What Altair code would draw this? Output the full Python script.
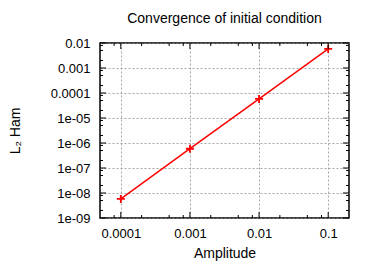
import altair as alt
import pandas as pd

# data
amplitude = [0.0001, 0.001, 0.01, 0.1]
l2_ham = [5.8e-9, 5.9e-7, 5.8e-5, 5.8e-3]

x_ticks = [0.0001, 0.001, 0.01, 0.1]
x_labels = ["0.0001", "0.001", "0.01", "0.1"]
y_ticks = [1e-9, 1e-8, 1e-7, 1e-6, 1e-5, 1e-4, 1e-3, 1e-2]
y_labels = ["1e-09", "1e-08", "1e-07", "1e-06", "1e-05", "0.0001", "0.001", "0.01"]
minor_mult = [2, 5, 8]

x_domain = [5e-5, 0.2]
y_domain = [1e-9, 1e-2]

W, H = 249, 175
FONT = "Liberation Sans"
RED = "#ff0000"

x_minor = [m * 10.0 ** e for e in range(-5, 0) for m in minor_mult]
x_minor = [v for v in x_minor if x_domain[0] < v < x_domain[1] * 0.999]
y_minor = [m * 10.0 ** e for e in range(-9, -2) for m in minor_mult]

df = pd.DataFrame({"a": amplitude, "l2": l2_ham})

x_expr = "[" + ",".join(f"'{s}'" for s in x_labels) + "][round(log(datum.value)/LN10)+4]"
y_expr = "[" + ",".join(f"'{s}'" for s in y_labels) + "][round(log(datum.value)/LN10)+9]"

xs = alt.Scale(type="log", domain=x_domain, nice=False)
ys = alt.Scale(type="log", domain=y_domain, nice=False)

xaxis = alt.Axis(values=x_ticks, labelExpr=x_expr, title="Amplitude", grid=True,
                 gridDash=[2, 2], gridColor="#909090", gridWidth=0.8,
                 tickSize=0, domain=False, labelPadding=9, labelFontSize=13,
                 titleFontSize=14, titleFontWeight="normal", titlePadding=6,
                 labelFont=FONT, titleFont=FONT, labelColor="black", titleColor="black")
yaxis = alt.Axis(values=y_ticks, labelExpr=y_expr, title="L₂ Ham", grid=True,
                 gridDash=[2, 2], gridColor="#909090", gridWidth=0.8,
                 tickSize=0, domain=False, labelPadding=10, labelFontSize=13,
                 titleFontSize=14, titleFontWeight="normal", titlePadding=28,
                 labelFont=FONT, titleFont=FONT, labelColor="black", titleColor="black")

base = alt.Chart(df)
line = base.mark_line(color=RED, strokeWidth=1.5).encode(
    x=alt.X("a:Q", scale=xs, axis=xaxis),
    y=alt.Y("l2:Q", scale=ys, axis=yaxis),
)
pts = base.mark_point(shape="M-1,0L1,0M0,-1L0,1", size=64, color=RED,
                      strokeWidth=1.8, opacity=1).encode(
    x=alt.X("a:Q", scale=xs, axis=xaxis), y=alt.Y("l2:Q", scale=ys, axis=yaxis))

layers = [line, pts]

def yrules(vals, length):
    d = pd.DataFrame({"v": vals})
    c = alt.Chart(d)
    return [
        c.mark_rule(color="black", strokeWidth=1).encode(
            y=alt.Y("v:Q", scale=ys, axis=yaxis), x=alt.value(0), x2=alt.value(length)),
        c.mark_rule(color="black", strokeWidth=1).encode(
            y=alt.Y("v:Q", scale=ys, axis=yaxis), x=alt.value(W), x2=alt.value(W - length)),
    ]

def xrules(vals, length):
    d = pd.DataFrame({"v": vals})
    c = alt.Chart(d)
    return [
        c.mark_rule(color="black", strokeWidth=1).encode(
            x=alt.X("v:Q", scale=xs, axis=xaxis), y=alt.value(H), y2=alt.value(H - length)),
        c.mark_rule(color="black", strokeWidth=1).encode(
            x=alt.X("v:Q", scale=xs, axis=xaxis), y=alt.value(0), y2=alt.value(length)),
    ]

layers += yrules(y_ticks, 6) + yrules(y_minor, 3)
layers += xrules(x_ticks, 6) + xrules(x_minor, 3)

chart = alt.layer(*layers).properties(
    width=W, height=H,
    title=alt.TitleParams("Convergence of initial condition", fontSize=14,
                          fontWeight="normal", font=FONT, color="black",
                          anchor="middle", offset=11),
    autosize=alt.AutoSizeParams(type="none"),
    padding={"left": 92, "top": 35, "right": 17, "bottom": 44},
).configure_view(stroke="black", strokeWidth=1.5)

chart.save("out.html", embed_options={"renderer": "svg", "actions": False})
